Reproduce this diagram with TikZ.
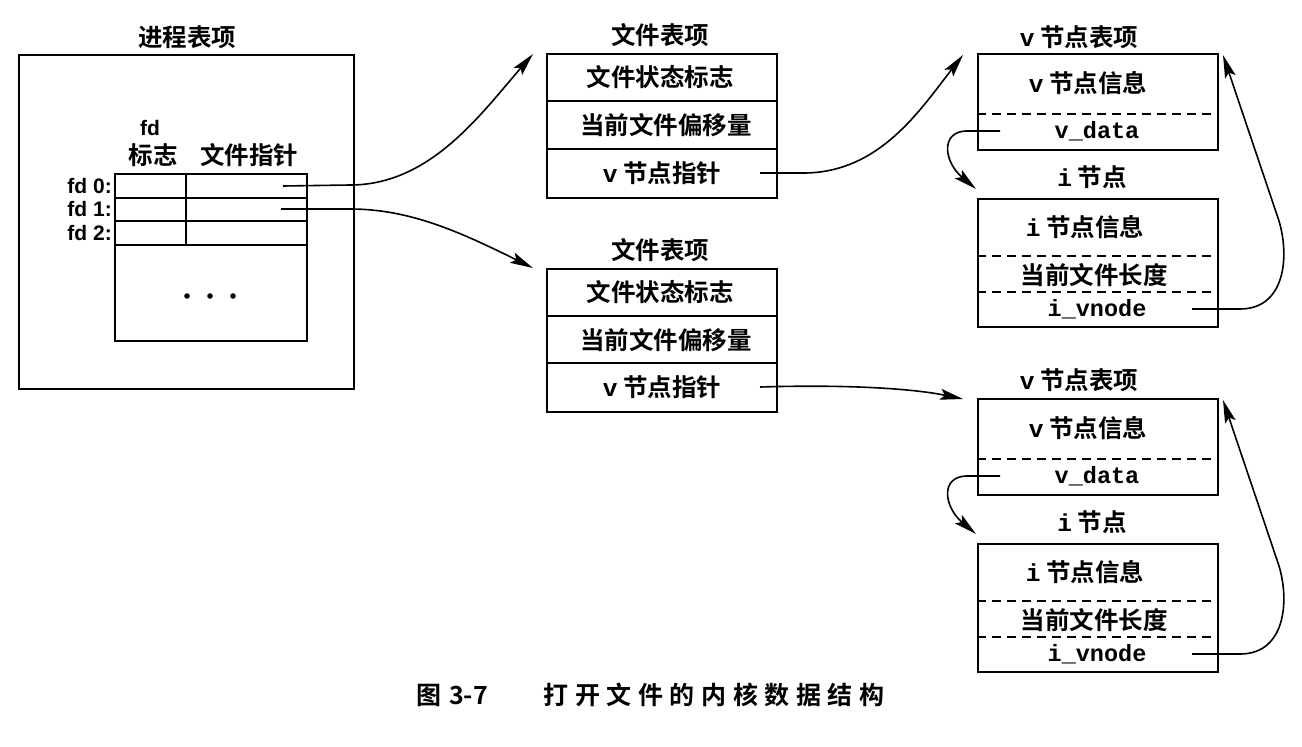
\documentclass[tikz,border=0pt]{standalone}
\usepackage{fontspec}
\usetikzlibrary{arrows.meta}
\setmainfont{Noto Sans CJK SC}
\newfontfamily\cjkb{Noto Sans CJK SC Bold}
\newfontfamily\latsans{Liberation Sans}
\newfontfamily\monob{Liberation Mono Bold}
\newcommand\spc{\hspace{6.6pt}}
\begin{document}
\begin{tikzpicture}[x=1pt,y=-1pt,
  box/.style={draw, line width=1.9pt, inner sep=0pt, anchor=north west},
  lbl/.style={font=\cjkb\fontsize{24.5}{28}\selectfont, inner sep=0pt},
  fdl/.style={font=\latsans\bfseries\fontsize{21}{24}\selectfont, inner sep=0pt},
  mono/.style={font=\monob\fontsize{23.5}{26}\selectfont, inner sep=0pt},
  sep/.style={line width=1.6pt},
  dsep/.style={line width=1.4pt, dash pattern=on 9pt off 6pt},
  ptr/.style={line width=1.6pt},
  arr/.style={ptr, -{Stealth[length=23pt,width=11pt,inset=4.5pt]}},
  captxt/.style={font=\cjkb\fontsize{25}{28}\selectfont, inner sep=0pt}]
\useasboundingbox[fill=white] (0,0) rectangle (1302,747);

% ---------- process table ----------
\node[lbl] (t0) at (187,37) {进程表项};
\node[box, minimum width=335pt, minimum height=334pt] (proc) at (18,54) {};
\node[box, minimum width=192pt, minimum height=167pt] (fdtab) at (114,173) {};
\draw[sep] (114,198) -- (306,198);
\draw[sep] (114,221) -- (306,221);
\draw[sep] (114,245) -- (306,245);
\draw[line width=1.1pt] (186,173) -- (186,245);
\node[fdl] (fdh) at (150,128) {fd};
\node[lbl] (fdflag) at (153,155) {标志};
\node[lbl] (fdptr) at (249,155) {文件指针};
\node[fdl, anchor=east] (fd0) at (112,186) {fd 0:};
\node[fdl, anchor=east] (fd1) at (112,209) {fd 1:};
\node[fdl, anchor=east] (fd2) at (112,233) {fd 2:};
\fill (187,296) circle (2.8pt) (210,296) circle (2.8pt) (233,296) circle (2.8pt);
\coordinate (p0) at (283,186);
\coordinate (p1) at (281,209);

% ---------- file table 1 ----------
\node[lbl] (ft1t) at (660,35) {文件表项};
\node[box, minimum width=230pt, minimum height=144pt] (ft1) at (546,53) {};
\draw[sep] (546,101) -- (776,101);
\draw[sep] (546,149) -- (776,149);
\node[lbl] (ft1a) at (660,77) {文件状态标志};
\node[lbl] (ft1b) at (666,125) {当前文件偏移量};
\node[lbl] (ft1c) at (662,173) {{\monob v} 节点指针};
\coordinate (ft1v) at (760,173);
\coordinate (ft1in) at (533,54);

% ---------- file table 2 ----------
\node[lbl] (ft2t) at (660,250) {文件表项};
\node[box, minimum width=230pt, minimum height=143pt] (ft2) at (546,268) {};
\draw[sep] (546,316) -- (776,316);
\draw[sep] (546,363) -- (776,363);
\node[lbl] (ft2a) at (660,292) {文件状态标志};
\node[lbl] (ft2b) at (666,340) {当前文件偏移量};
\node[lbl] (ft2c) at (662,387) {{\monob v} 节点指针};
\coordinate (ft2v) at (760,387);
\coordinate (ft2in) at (533,268);

% ---------- v-node / i-node set 1 ----------
\node[lbl] (vn1t) at (1079,37) {{\monob v} 节点表项};
\node[box, minimum width=240pt, minimum height=96pt] (vn1) at (977,53) {};
\draw[dsep] (977,114) -- (1217,114);
\node[lbl] (vn1a) at (1088,83) {{\monob v} 节点信息};
\node[mono] (vn1b) at (1097,131) {v\_data};
\coordinate (vd1) at (1000,131);
\coordinate (vn1in) at (963,55);
\coordinate (vn1up) at (1223,55);
\node[lbl] (in1t) at (1092,177) {{\monob i} 节点};
\node[box, minimum width=240pt, minimum height=128pt] (in1) at (977,198) {};
\draw[dsep] (977,256) -- (1217,256);
\draw[dsep] (977,292) -- (1217,292);
\node[lbl] (in1a) at (1085,227) {{\monob i} 节点信息};
\node[lbl] (in1b) at (1094,275) {当前文件长度};
\node[mono] (in1c) at (1097,309) {i\_vnode};
\coordinate (iv1) at (1192,309);
\coordinate (in1in) at (976,189);

% ---------- v-node / i-node set 2 ----------
\node[lbl] (vn2t) at (1079,380) {{\monob v} 节点表项};
\node[box, minimum width=240pt, minimum height=96pt] (vn2) at (977,398) {};
\draw[dsep] (977,459) -- (1217,459);
\node[lbl] (vn2a) at (1088,428) {{\monob v} 节点信息};
\node[mono] (vn2b) at (1097,476) {v\_data};
\coordinate (vd2) at (1000,476);
\coordinate (vn2in) at (963,399);
\coordinate (vn2up) at (1223,400);
\node[lbl] (in2t) at (1092,522) {{\monob i} 节点};
\node[box, minimum width=240pt, minimum height=128pt] (in2) at (977,543) {};
\draw[dsep] (977,601) -- (1217,601);
\draw[dsep] (977,637) -- (1217,637);
\node[lbl] (in2a) at (1085,572) {{\monob i} 节点信息};
\node[lbl] (in2b) at (1094,620) {当前文件长度};
\node[mono] (in2c) at (1097,654) {i\_vnode};
\coordinate (iv2) at (1192,654);
\coordinate (in2in) at (976,534);

% ---------- connectors ----------
\draw[arr] (p0) -- (350,185) .. controls (430,185) and (480,115) .. (ft1in);
\draw[arr] (p1) -- (350,209) .. controls (410,209) and (460,232) .. (ft2in);
\draw[arr] (ft1v) -- (805,173) .. controls (880,172) and (920,110) .. (vn1in);
\draw[arr] (ft2v) .. controls (860,384) and (920,390) .. (vn2in);
\draw[arr] (vd1) -- (966,131) .. controls (940,132) and (944,162) .. (in1in);
\draw[arr] (vd2) -- (966,476) .. controls (940,477) and (944,507) .. (in2in);
\draw[arr] (iv1) -- (1240,309) .. controls (1288,309) and (1290,250) .. (1277,215) -- (vn1up);
\draw[arr] (iv2) -- (1240,654) .. controls (1288,654) and (1290,595) .. (1277,560) -- (vn2up);

% ---------- caption ----------
\node[captxt] (cap1) at (452,695) {图\hspace{8pt}3-7};
\node[captxt] (cap2) at (714,695) {打\spc 开\spc 文\spc 件\spc 的\spc 内\spc 核\spc 数\spc 据\spc 结\spc 构};
\end{tikzpicture}
\end{document}
